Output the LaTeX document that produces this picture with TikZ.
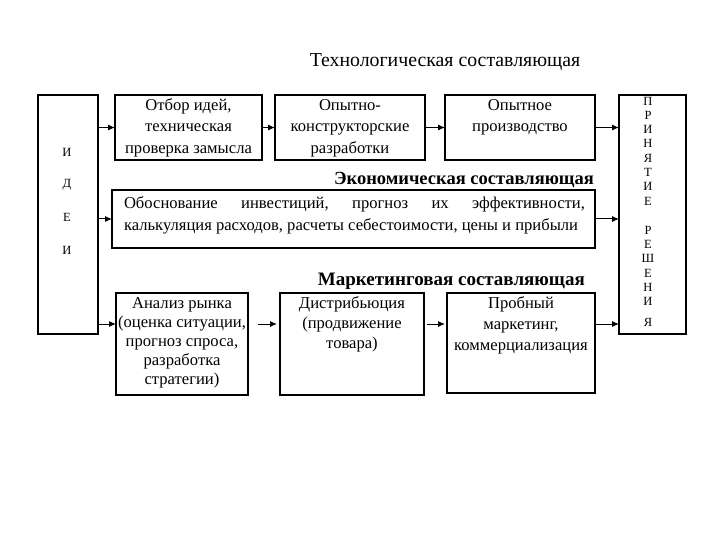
\documentclass[tikz,border=0pt]{standalone}
\usepackage{fontspec}
\setmainfont{Liberation Serif}
\usetikzlibrary{arrows.meta}
\newcommand\bxtext[4]{\parbox[c][#2pt][t]{#1pt}{\centering\fontsize{16.6}{#3}\selectfont\rule{0pt}{15.5pt}#4}}
\begin{document}
\begin{tikzpicture}[x=1pt,y=-1pt,
  box/.style={draw, line width=1.2pt, inner sep=0pt, outer sep=0pt, anchor=north west},
  arr/.style={-{Latex[length=7pt,width=6pt]}, line width=1pt},
  letter/.style={font=\fontsize{12.5}{12}\selectfont, inner sep=0pt},
  head/.style={font=\fontsize{19.8}{20}\selectfont, inner sep=0pt},
  headb/.style={font=\fontsize{18.5}{20}\selectfont\bfseries, inner sep=0pt},
  headm/.style={font=\fontsize{19}{20}\selectfont\bfseries, inner sep=0pt}]
\useasboundingbox (0,0) rectangle (720,540);

% side boxes
\node[box, minimum width=60pt, minimum height=239pt] (L) at (38,95) {};
\node[box, minimum width=67pt, minimum height=239pt] (R) at (619,95) {};

% technological row
\node[box] (b1) at (115,95) {\bxtext{147}{65}{21.5}{Отбор идей,\\техническая\\проверка замысла}};
\node[box] (b2) at (275,95) {\bxtext{150}{65}{21.5}{Опытно-\\конструкторские\\разработки}};
\node[box] (b3) at (445,95) {\bxtext{150}{65}{21.5}{Опытное\\производство}};

% economic
\node[box] (E) at (112,190) {\parbox[c][58pt][t]{483pt}{\fontsize{16.6}{21.5}\selectfont\parindent=0pt\leftskip=12pt
\rule{0pt}{19pt}\hbox to 461pt{Обоснование\hfill инвестиций,\hfill прогноз\hfill их\hfill эффективности,}\\
\hbox{калькуляция расходов, расчеты себестоимости, цены и прибыли}}};

% marketing row
\node[box] (A) at (116,293) {\bxtext{132}{102}{19}{Анализ рынка\\(оценка ситуации,\\прогноз спроса,\\разработка\\стратегии)}};
\node[box] (B) at (280,293) {\bxtext{144}{102}{20}{Дистрибьюция\\(продвижение\\товара)}};
\node[box] (C) at (447,293) {\bxtext{148}{100}{21}{Пробный\\маркетинг,\\коммерциализация}};

% headings
\node[head, anchor=base] (t1) at (445,67) {Технологическая составляющая};
\node[headb, anchor=base east] (t2) at (594,185) {Экономическая составляющая};
\node[headm, anchor=base east] (t3) at (585,285) {Маркетинговая составляющая};

% letters
\foreach \ch/\yy [count=\i] in {И/152,Д/185,Е/217,И/250}
  \node[letter] (l\i) at (67,\yy) {\ch};
\foreach \ch/\yy [count=\i] in {П/101,Р/115,И/129,Н/143,Я/158,Т/172,И/186,Е/201,Р/230,Е/244,Ш/258,Е/273,Н/287,И/301,Я/322}
  \node[letter] (r\i) at (648,\yy) {\ch};

% arrows
\coordinate (my) at (0,324);
\draw[arr] (L.east |- b1.west) -- (b1.west);
\draw[arr] (b1.east) -- (b2.west);
\draw[arr] (b2.east) -- (b3.west);
\draw[arr] (b3.east) -- (R.west |- b3.east);
\draw[arr] (L.east |- E.west) -- (E.west);
\draw[arr] (E.east) -- (R.west |- E.east);
\draw[arr] (L.east |- my) -- (A.west |- my);
\draw[arr, shorten <=10pt, shorten >=3pt] (A.east |- my) -- (B.west |- my);
\draw[arr, shorten <=3pt, shorten >=2pt] (B.east |- my) -- (C.west |- my);
\draw[arr] (C.east |- my) -- (R.west |- my);
\end{tikzpicture}
\end{document}
